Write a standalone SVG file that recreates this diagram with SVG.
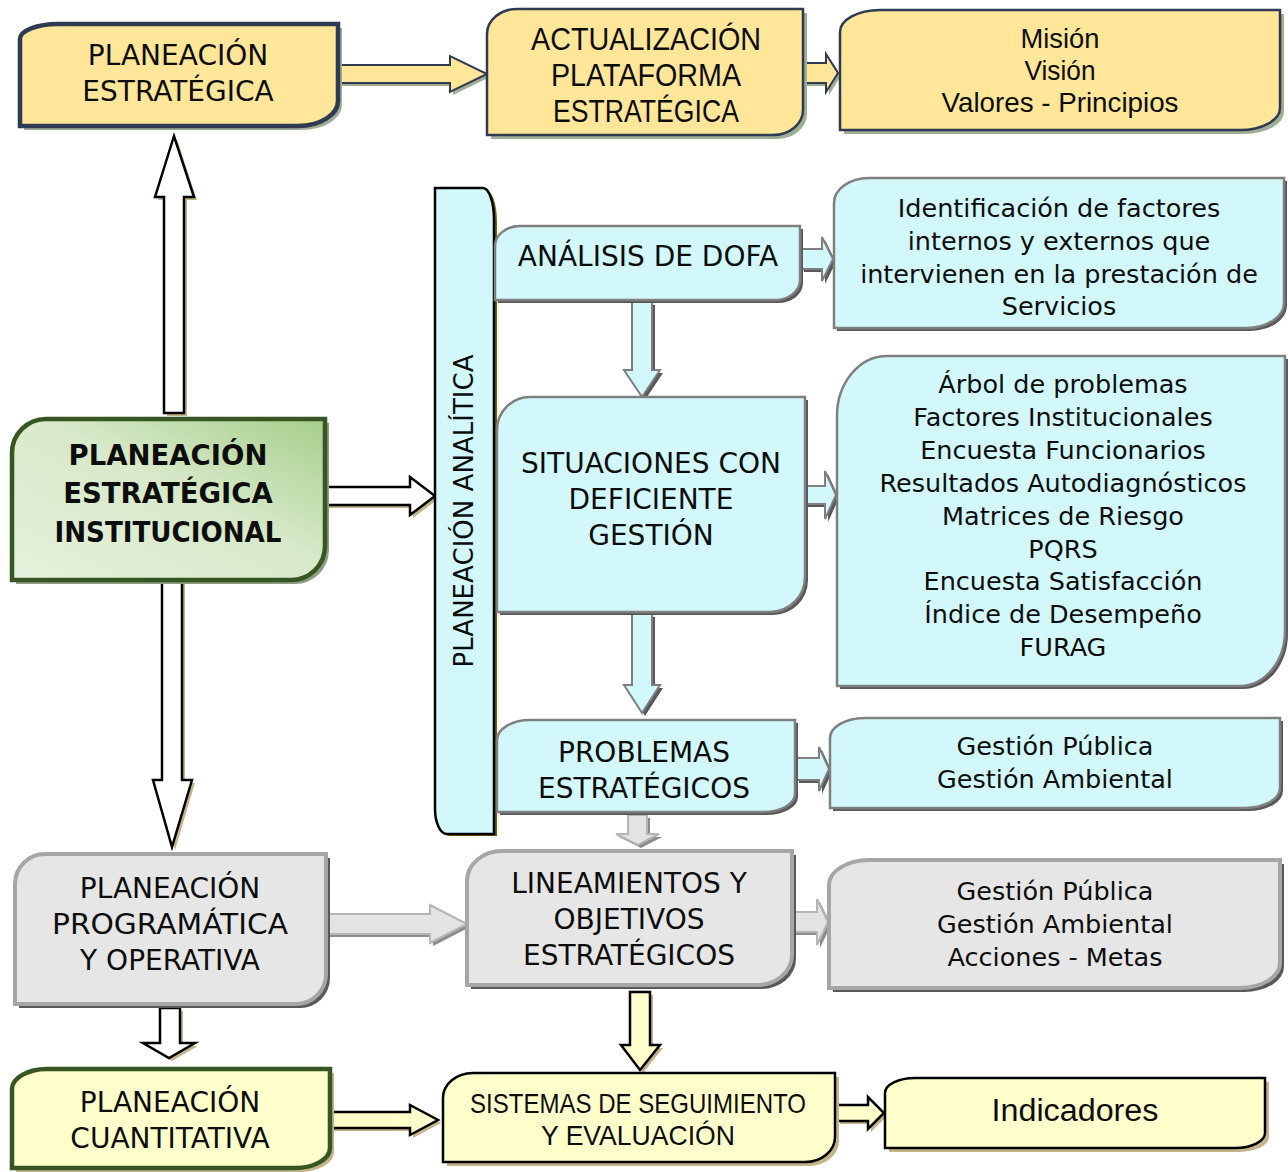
<svg xmlns="http://www.w3.org/2000/svg" width="1288" height="1172" viewBox="0 0 1288 1172">
  <defs>
    <linearGradient id="gradGreen" x1="0" y1="1" x2="1" y2="0">
      <stop offset="0" stop-color="#e6f1dd"/>
      <stop offset="0.55" stop-color="#d7e9c9"/>
      <stop offset="1" stop-color="#a6cf8a"/>
    </linearGradient>
    <style>
      .t { font-family: "DejaVu Sans", "Liberation Sans", sans-serif; fill: #0d0d0d; text-anchor: middle; }
      .cap { font-size: 28px; }
      .lst { font-size: 25.5px; }
      .bold { font-size: 27.5px; font-weight: bold; }
      .nar { font-family: "Liberation Sans Narrow", "Liberation Sans", sans-serif; fill: #0d0d0d; text-anchor: middle; }
      .yel { fill: #ffe699; stroke: #2f3b52; stroke-width: 2.5; }
      .yelS { fill: #9fae95; }
      .cy { fill: #d2f8fb; stroke: #7f7f7f; stroke-width: 2.5; }
      .cyS { fill: #595959; }
      .gr { fill: #e6e6e6; stroke: #a6a6a6; stroke-width: 4; }
      .grS { fill: #595959; }
      .lt { fill: #ffffcc; stroke: #000; stroke-width: 2.5; }
      .tanS { fill: #c4b48a; }
      .out { fill: #ffffff; stroke: #000; stroke-width: 2.5; stroke-linejoin: miter; }
      .aY { fill: #ffe699; stroke: #2f3b52; stroke-width: 2; }
      .aC { fill: #d2f8fb; stroke: #7f7f7f; stroke-width: 2; }
      .aG { fill: #e3e3e3; stroke: #b5b5b5; stroke-width: 2; }
      .aL { fill: #ffffcc; stroke: #000; stroke-width: 2.5; }
      .aGS { fill: #8c8c8c; }
    </style>
  </defs>

  <rect width="1288" height="1172" fill="#ffffff"/>

  <!-- connectors: block arrows, each with its offset shadow -->
  <g id="connectors">
    <g id="a-pe-act">
      <polygon class="yelS" transform="translate(3,3)" points="338,65 450,65 450,56 487,74 450,92 450,83 338,83"/>
      <polygon class="aY" points="338,65 450,65 450,56 487,74 450,92 450,83 338,83"/>
    </g>
    <g id="a-act-mision">
      <polygon class="yelS" transform="translate(3,3)" points="804,63 826,63 826,54 838,73 826,92 826,83 804,83"/>
      <polygon class="aY" points="804,63 826,63 826,54 838,73 826,92 826,83 804,83"/>
    </g>
    <g id="a-pei-pe">
      <polygon class="tanS" transform="translate(3,3)" points="164,413 184,413 184,197 194,197 174,136 155,197 164,197"/>
      <polygon class="out" points="164,413 184,413 184,197 194,197 174,136 155,197 164,197"/>
    </g>
    <g id="a-pei-prog">
      <polygon class="tanS" transform="translate(3,3)" points="162,581 182,581 182,780 192,780 172,847 153,780 162,780"/>
      <polygon class="out" points="162,581 182,581 182,780 192,780 172,847 153,780 162,780"/>
    </g>
    <g id="a-pei-anal">
      <polygon class="tanS" transform="translate(3,3)" points="325,487 410,487 410,477 435,496 410,515 410,505 325,505"/>
      <polygon class="out" points="325,487 410,487 410,477 435,496 410,515 410,505 325,505"/>
    </g>
    <g id="a-dofa-ident">
      <polygon class="cyS" transform="translate(3,3)" points="801,249 822,249 822,237 833,259 822,281 822,269 801,269"/>
      <polygon class="aC" points="801,249 822,249 822,237 833,259 822,281 822,269 801,269"/>
    </g>
    <g id="a-dofa-sit">
      <polygon class="cyS" transform="translate(3,3)" points="632,302 652,302 652,370 660,370 642,397 624,370 632,370"/>
      <polygon class="aC" points="632,302 652,302 652,370 660,370 642,397 624,370 632,370"/>
    </g>
    <g id="a-sit-arbol">
      <polygon class="cyS" transform="translate(3,3)" points="805,486 825,486 825,471 836,495 825,519 825,504 805,504"/>
      <polygon class="aC" points="805,486 825,486 825,471 836,495 825,519 825,504 805,504"/>
    </g>
    <g id="a-sit-prob">
      <polygon class="cyS" transform="translate(3,3)" points="632,614 652,614 652,685 660,685 642,713 624,685 632,685"/>
      <polygon class="aC" points="632,614 652,614 652,685 660,685 642,713 624,685 632,685"/>
    </g>
    <g id="a-prob-gest">
      <polygon class="cyS" transform="translate(3,3)" points="796,758 819,758 819,747 829,769 819,791 819,780 796,780"/>
      <polygon class="aC" points="796,758 819,758 819,747 829,769 819,791 819,780 796,780"/>
    </g>
    <g id="a-prob-lin">
      <polygon class="aGS" transform="translate(3,3)" points="628,815 647,815 647,834 659,834 638,845 616,834 628,834"/>
      <polygon class="aG" points="628,815 647,815 647,834 659,834 638,845 616,834 628,834"/>
    </g>
    <g id="a-prog-lin">
      <polygon class="aGS" transform="translate(3,3)" points="326,914 430,914 430,905 467,924 430,943 430,934 326,934"/>
      <polygon class="aG" points="326,914 430,914 430,905 467,924 430,943 430,934 326,934"/>
    </g>
    <g id="a-lin-gest">
      <polygon class="aGS" transform="translate(3,3)" points="792,912 817,912 817,899 828,922 817,945 817,932 792,932"/>
      <polygon class="aG" points="792,912 817,912 817,899 828,922 817,945 817,932 792,932"/>
    </g>
    <g id="a-prog-cuant">
      <polygon class="tanS" transform="translate(3,3)" points="160,1008 180,1008 180,1043 195,1043 169,1058 143,1043 160,1043"/>
      <polygon class="out" points="160,1008 180,1008 180,1043 195,1043 169,1058 143,1043 160,1043"/>
    </g>
    <g id="a-cuant-sis">
      <polygon class="tanS" transform="translate(3,3)" points="330,1112 410,1112 410,1105 438,1120 410,1135 410,1128 330,1128"/>
      <polygon class="aL" points="330,1112 410,1112 410,1105 438,1120 410,1135 410,1128 330,1128"/>
    </g>
    <g id="a-lin-sis">
      <polygon class="tanS" transform="translate(3,3)" points="630,992 650,992 650,1045 660,1045 640,1070 621,1045 630,1045"/>
      <polygon class="aL" points="630,992 650,992 650,1045 660,1045 640,1070 621,1045 630,1045"/>
    </g>
    <g id="a-sis-ind">
      <polygon class="tanS" transform="translate(3,3)" points="837,1105 868,1105 868,1097 884,1113 868,1129 868,1121 837,1121"/>
      <polygon class="aL" points="837,1105 868,1105 868,1097 884,1113 868,1129 868,1121 837,1121"/>
    </g>
  </g>

  <!-- nodes: rectangles with rounded top-left and bottom-right corners -->
  <g id="n-planeacion-estrategica">
    <path class="yelS" transform="translate(4,4)" d="M58,24 H338 V101 A40,25 0 0 1 298,126 H20 V39 A38,15 0 0 1 58,24 Z"/>
    <path class="yel" style="stroke-width:4.5" d="M58,24 H338 V101 A40,25 0 0 1 298,126 H20 V39 A38,15 0 0 1 58,24 Z"/>
    <text class="t cap" x="178" y="65">PLANEACIÓN</text>
    <text class="t cap" x="178" y="101">ESTRATÉGICA</text>
  </g>

  <g id="n-actualizacion">
    <path class="yelS" transform="translate(4,4)" d="M517,9 H803 V110 A30,25 0 0 1 773,135 H487 V34 A30,25 0 0 1 517,9 Z"/>
    <path class="yel" d="M517,9 H803 V110 A30,25 0 0 1 773,135 H487 V34 A30,25 0 0 1 517,9 Z"/>
    <text class="nar" font-size="32" x="646" y="49.5" textLength="230" lengthAdjust="spacingAndGlyphs">ACTUALIZACIÓN</text>
    <text class="nar" font-size="32" x="646" y="85.5" textLength="190" lengthAdjust="spacingAndGlyphs">PLATAFORMA</text>
    <text class="nar" font-size="32" x="646" y="121.5" textLength="186" lengthAdjust="spacingAndGlyphs">ESTRATÉGICA</text>
  </g>

  <g id="n-mision">
    <path class="yelS" transform="translate(4,4)" d="M880,10 H1280 V108 A40,22 0 0 1 1240,130 H840 V32 A40,22 0 0 1 880,10 Z"/>
    <path class="yel" d="M880,10 H1280 V108 A40,22 0 0 1 1240,130 H840 V32 A40,22 0 0 1 880,10 Z"/>
    <text class="nar" font-size="28" x="1060" y="48" textLength="79" lengthAdjust="spacingAndGlyphs">Misión</text>
    <text class="nar" font-size="28" x="1060" y="80" textLength="71" lengthAdjust="spacingAndGlyphs">Visión</text>
    <text class="nar" font-size="28" x="1060" y="112" textLength="237" lengthAdjust="spacingAndGlyphs">Valores - Principios</text>
  </g>

  <g id="n-pei">
    <path fill="#8e9e80" transform="translate(4,4)" d="M46,419 H325 V546 A34,34 0 0 1 291,580 H12 V453 A34,34 0 0 1 46,419 Z"/>
    <path fill="url(#gradGreen)" stroke="#375623" stroke-width="4.5" d="M46,419 H325 V546 A34,34 0 0 1 291,580 H12 V453 A34,34 0 0 1 46,419 Z"/>
    <text class="t bold" x="168" y="465">PLANEACIÓN</text>
    <text class="t bold" x="168" y="503">ESTRATÉGICA</text>
    <text class="t bold" x="168" y="542" textLength="227" lengthAdjust="spacingAndGlyphs">INSTITUCIONAL</text>
  </g>

  <g id="n-analitica">
    <path fill="#7f6000" transform="translate(3,2)" d="M435,188 H483 A11,32 0 0 1 494,220 V834 H447 A12,25 0 0 1 435,809 V188 Z"/>
    <path fill="#d2f8fb" stroke="#000" stroke-width="2.5" d="M435,188 H483 A11,32 0 0 1 494,220 V834 H447 A12,25 0 0 1 435,809 V188 Z"/>
    <text class="t" font-size="26" transform="translate(473,511) rotate(-90)" x="0" y="0" textLength="313" lengthAdjust="spacingAndGlyphs">PLANEACIÓN ANALÍTICA</text>
  </g>

  <g id="n-dofa">
    <path class="cyS" transform="translate(3,3)" d="M520,226 H800 V280 A25,20 0 0 1 775,300 H495 V246 A25,20 0 0 1 520,226 Z"/>
    <path class="cy" d="M520,226 H800 V280 A25,20 0 0 1 775,300 H495 V246 A25,20 0 0 1 520,226 Z"/>
    <text class="t cap" x="648" y="266">ANÁLISIS DE DOFA</text>
  </g>

  <g id="n-identificacion">
    <path class="cyS" transform="translate(3,3)" d="M869,178 H1284 V303 A38,25 0 0 1 1246,328 H834 V203 A35,25 0 0 1 869,178 Z"/>
    <path class="cy" d="M869,178 H1284 V303 A38,25 0 0 1 1246,328 H834 V203 A35,25 0 0 1 869,178 Z"/>
    <text class="t lst" x="1059" y="216.5">Identificación de factores</text>
    <text class="t lst" x="1059" y="249.5">internos y externos que</text>
    <text class="t lst" x="1059" y="282.5">intervienen en la prestación de</text>
    <text class="t lst" x="1059" y="314.5">Servicios</text>
  </g>

  <g id="n-situaciones">
    <path class="cyS" transform="translate(3,3)" d="M530,397 H805 V577 A35,35 0 0 1 770,612 H497 V430 A33,33 0 0 1 530,397 Z"/>
    <path class="cy" d="M530,397 H805 V577 A35,35 0 0 1 770,612 H497 V430 A33,33 0 0 1 530,397 Z"/>
    <text class="t cap" x="651" y="473">SITUACIONES CON</text>
    <text class="t cap" x="651" y="509">DEFICIENTE</text>
    <text class="t cap" x="651" y="545">GESTIÓN</text>
  </g>

  <g id="n-arbol">
    <path class="cyS" transform="translate(3,3)" d="M887,356 H1285 V631 A45,55 0 0 1 1240,686 H837 V416 A50,60 0 0 1 887,356 Z"/>
    <path class="cy" d="M887,356 H1285 V631 A45,55 0 0 1 1240,686 H837 V416 A50,60 0 0 1 887,356 Z"/>
    <text class="t lst" x="1063" y="393">Árbol de problemas</text>
    <text class="t lst" x="1063" y="426">Factores Institucionales</text>
    <text class="t lst" x="1063" y="459">Encuesta Funcionarios</text>
    <text class="t lst" x="1063" y="492">Resultados Autodiagnósticos</text>
    <text class="t lst" x="1063" y="525">Matrices de Riesgo</text>
    <text class="t lst" x="1063" y="558">PQRS</text>
    <text class="t lst" x="1063" y="590">Encuesta Satisfacción</text>
    <text class="t lst" x="1063" y="623">Índice de Desempeño</text>
    <text class="t lst" x="1063" y="656">FURAG</text>
  </g>

  <g id="n-problemas">
    <path class="cyS" transform="translate(3,3)" d="M530,720 H795 V794 A32,18 0 0 1 763,812 H497 V740 A33,20 0 0 1 530,720 Z"/>
    <path class="cy" d="M530,720 H795 V794 A32,18 0 0 1 763,812 H497 V740 A33,20 0 0 1 530,720 Z"/>
    <text class="t cap" x="644" y="762">PROBLEMAS</text>
    <text class="t cap" x="644" y="798">ESTRATÉGICOS</text>
  </g>

  <g id="n-gestion-1">
    <path class="cyS" transform="translate(3,3)" d="M865,718 H1280 V788 A35,20 0 0 1 1245,808 H830 V738 A35,20 0 0 1 865,718 Z"/>
    <path class="cy" d="M865,718 H1280 V788 A35,20 0 0 1 1245,808 H830 V738 A35,20 0 0 1 865,718 Z"/>
    <text class="t lst" font-size="26" x="1055" y="755">Gestión Pública</text>
    <text class="t lst" font-size="26" x="1055" y="788">Gestión Ambiental</text>
  </g>

  <g id="n-lineamientos">
    <path class="grS" transform="translate(4,4)" d="M502,851 H792 V955 A35,30 0 0 1 757,985 H467 V881 A35,30 0 0 1 502,851 Z"/>
    <path class="gr" d="M502,851 H792 V955 A35,30 0 0 1 757,985 H467 V881 A35,30 0 0 1 502,851 Z"/>
    <text class="t cap" x="629" y="893">LINEAMIENTOS Y</text>
    <text class="t cap" x="629" y="929">OBJETIVOS</text>
    <text class="t cap" x="629" y="965">ESTRATÉGICOS</text>
  </g>

  <g id="n-gestion-2">
    <path class="grS" transform="translate(4,4)" d="M869,860 H1280 V963 A40,25 0 0 1 1240,988 H829 V885 A40,25 0 0 1 869,860 Z"/>
    <path class="gr" d="M869,860 H1280 V963 A40,25 0 0 1 1240,988 H829 V885 A40,25 0 0 1 869,860 Z"/>
    <text class="t lst" font-size="26" x="1055" y="900">Gestión Pública</text>
    <text class="t lst" font-size="26" x="1055" y="933">Gestión Ambiental</text>
    <text class="t lst" font-size="26" x="1055" y="966">Acciones - Metas</text>
  </g>

  <g id="n-programatica">
    <path class="grS" transform="translate(4,4)" d="M45,854 H326 V974 A30,30 0 0 1 296,1004 H15 V884 A30,30 0 0 1 45,854 Z"/>
    <path class="gr" d="M45,854 H326 V974 A30,30 0 0 1 296,1004 H15 V884 A30,30 0 0 1 45,854 Z"/>
    <text class="t cap" x="170" y="898">PLANEACIÓN</text>
    <text class="t cap" x="170" y="934" textLength="236" lengthAdjust="spacingAndGlyphs">PROGRAMÁTICA</text>
    <text class="t cap" x="170" y="970">Y OPERATIVA</text>
  </g>

  <g id="n-cuantitativa">
    <path class="tanS" transform="translate(4,4)" d="M47,1069 H330 V1148 A35,20 0 0 1 295,1168 H12 V1089 A35,20 0 0 1 47,1069 Z"/>
    <path fill="#ffffcc" stroke="#375623" stroke-width="4.5" d="M47,1069 H330 V1148 A35,20 0 0 1 295,1168 H12 V1089 A35,20 0 0 1 47,1069 Z"/>
    <text class="t cap" x="170" y="1112">PLANEACIÓN</text>
    <text class="t cap" x="170" y="1148">CUANTITATIVA</text>
  </g>

  <g id="n-sistemas">
    <path class="tanS" transform="translate(4,4)" d="M473,1073 H835 V1137 A30,25 0 0 1 805,1162 H443 V1098 A30,25 0 0 1 473,1073 Z"/>
    <path class="lt" d="M473,1073 H835 V1137 A30,25 0 0 1 805,1162 H443 V1098 A30,25 0 0 1 473,1073 Z"/>
    <text class="nar" font-size="28" x="638" y="1113" textLength="336" lengthAdjust="spacingAndGlyphs">SISTEMAS DE SEGUIMIENTO</text>
    <text class="nar" font-size="28" x="638" y="1145" textLength="194" lengthAdjust="spacingAndGlyphs">Y EVALUACIÓN</text>
  </g>

  <g id="n-indicadores">
    <path class="tanS" transform="translate(4,4)" d="M915,1078 H1265 V1133 A30,15 0 0 1 1235,1148 H885 V1093 A30,15 0 0 1 915,1078 Z"/>
    <path class="lt" d="M915,1078 H1265 V1133 A30,15 0 0 1 1235,1148 H885 V1093 A30,15 0 0 1 915,1078 Z"/>
    <text class="nar" font-size="31" x="1075" y="1121" textLength="167" lengthAdjust="spacingAndGlyphs">Indicadores</text>
  </g>
</svg>
